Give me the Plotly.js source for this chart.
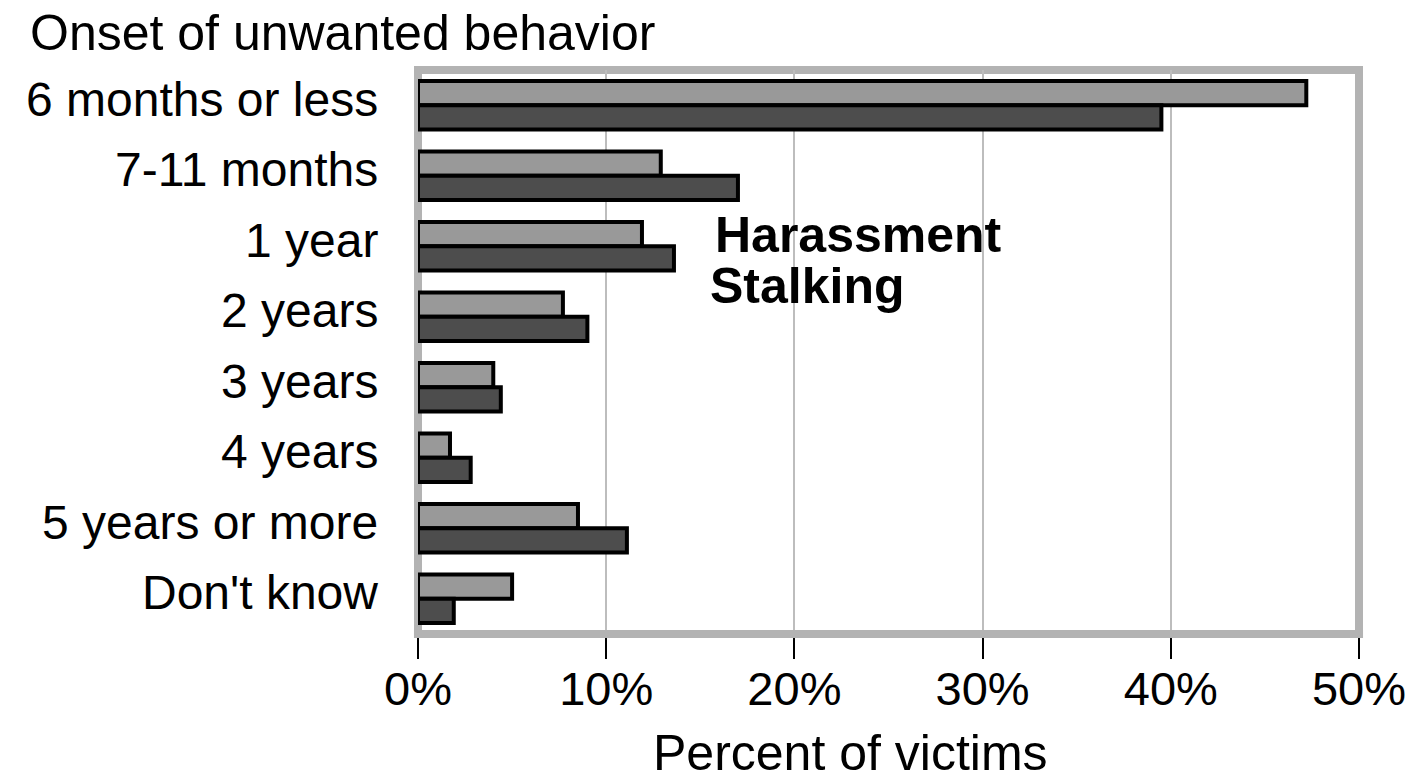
<!DOCTYPE html>
<html>
<head>
<meta charset="utf-8">
<script src="https://cdn.plot.ly/plotly-3.0.1.min.js"></script>
<style>
html,body{margin:0;padding:0;background:#fff;}
#chart{width:1408px;height:778px;}
</style>
</head>
<body>
<div id="chart"></div>
<script>
const categories = ["6 months or less","7-11 months","1 year","2 years","3 years","4 years","5 years or more","Don't know"];
const harassment = [47.2, 12.9, 11.9, 7.7, 4.0, 1.7, 8.5, 5.0];
const stalking = [39.5, 17.0, 13.6, 9.0, 4.4, 2.8, 11.1, 1.9];
const seriesNames = ["Harassment", "Stalking"];
const xTickVals = [0, 10, 20, 30, 40, 50];
const xTickText = ["0%", "10%", "20%", "30%", "40%", "50%"];
const chartTitle = "Onset of unwanted behavior";
const xTitle = "Percent of victims";

const FONT = "'Liberation Sans', Arial, Helvetica, sans-serif";

const traces = [
  {type:"bar", orientation:"h", name:seriesNames[0], y:categories, x:harassment,
   marker:{color:"#999999", line:{color:"#000000", width:4}}, cliponaxis:false, hoverinfo:"x+y"},
  {type:"bar", orientation:"h", name:seriesNames[1], y:categories, x:stalking,
   marker:{color:"#4d4d4d", line:{color:"#000000", width:4}}, cliponaxis:false, hoverinfo:"x+y"}
];

const categoryLabels = categories.map(c => ({
  text:c, xref:"paper", yref:"y", x:0, y:c, xanchor:"right", yanchor:"middle",
  xshift:-38, yshift:6, showarrow:false, font:{family:FONT, size:48, color:"#000000"}
}));

const layout = {
  width:1408, height:778,
  margin:{l:418, r:49, t:70, b:144, pad:0},
  paper_bgcolor:"#ffffff", plot_bgcolor:"#ffffff",
  font:{family:FONT, color:"#000000"},
  showlegend:false,
  barmode:"group", bargap:0.31, bargroupgap:0,
  title:{text:chartTitle, x:30/1408, xanchor:"left", xref:"container",
         y:1-32/778, yanchor:"middle", yref:"container",
         font:{family:FONT, size:50, color:"#000000"}},
  xaxis:{range:[0,50], tickvals:xTickVals, ticktext:xTickText,
         showgrid:true, gridcolor:"#bdbdbd", gridwidth:2, zeroline:false,
         showline:false, ticks:"outside", ticklen:24, tickwidth:2, tickcolor:"#000000",
         tickfont:{family:FONT, size:47, color:"#000000"}, ticklabelstandoff:-10, fixedrange:true},
  yaxis:{type:"category", categoryarray:categories, autorange:"reversed", showgrid:false, zeroline:false, showline:false,
         ticks:"", showticklabels:false, fixedrange:true},
  shapes:[
    {type:"rect", xref:"paper", yref:"paper", x0:0, x1:1, y0:0, y1:1,
     line:{color:"#b3b3b3", width:8}, fillcolor:"rgba(0,0,0,0)", layer:"below"},
    {type:"line", xref:"paper", yref:"paper", x0:-0.0043, x1:1.0043, y0:0, y1:0,
     line:{color:"#b3b3b3", width:8}, layer:"above"},
    {type:"rect", xref:"paper", yref:"paper", x0:0.30, x1:0.63, y0:0.552, y1:0.766,
     line:{width:0}, fillcolor:"#ffffff", layer:"between"}
  ],
  annotations:categoryLabels.concat([
    {text:"<b>"+seriesNames[0]+"</b>", xref:"paper", yref:"paper", x:(713-418)/941, y:(634-235)/564,
     xanchor:"left", yanchor:"middle", showarrow:false, font:{family:FONT, size:50, color:"#000000"}},
    {text:"<b>"+seriesNames[1]+"</b>", xref:"paper", yref:"paper", x:(708-418)/941, y:(634-286)/564,
     xanchor:"left", yanchor:"middle", showarrow:false, font:{family:FONT, size:50, color:"#000000"}},
    {text:xTitle, xref:"paper", yref:"paper", x:(850-418)/941, y:(634-753)/564,
     xanchor:"center", yanchor:"middle", showarrow:false, font:{family:FONT, size:50, color:"#000000"}}
  ])
};

Plotly.newPlot("chart", traces, layout, {displayModeBar:false, staticPlot:true});
</script>
</body>
</html>
